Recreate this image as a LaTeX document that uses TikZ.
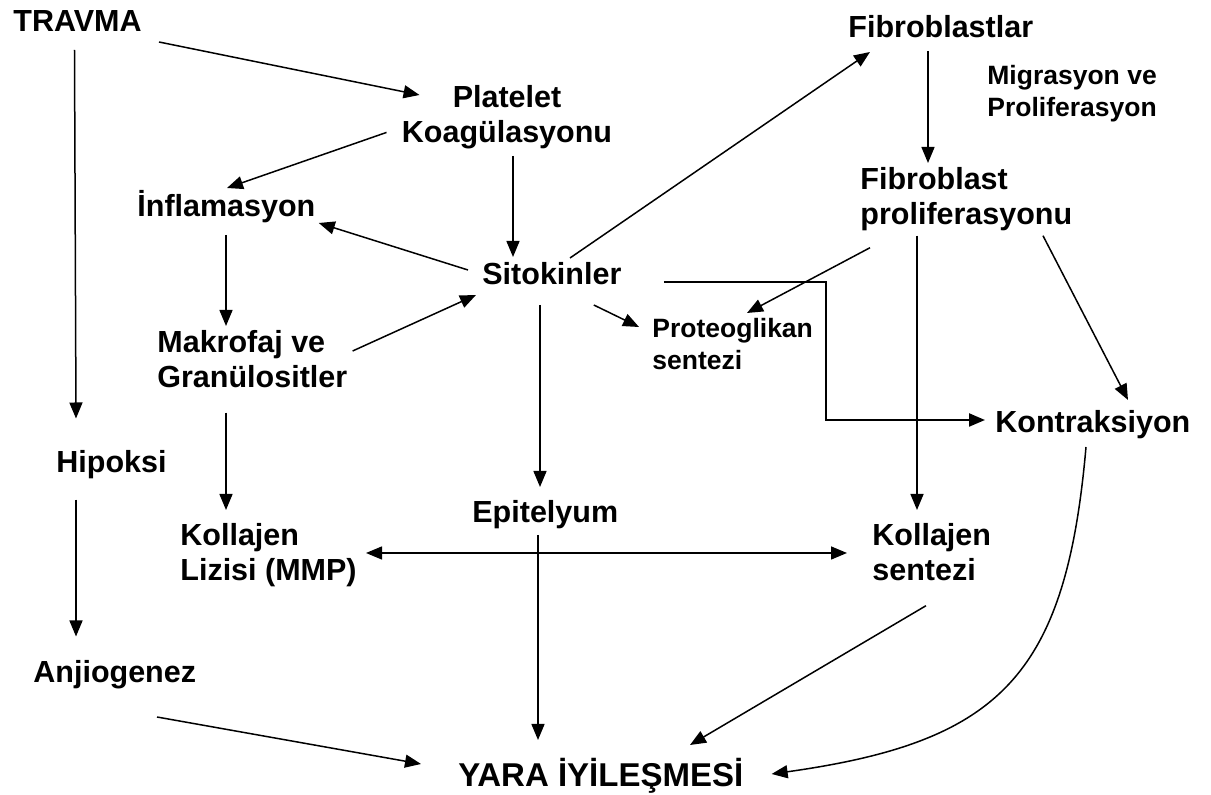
\documentclass[tikz,border=0pt]{standalone}
\usepackage{fontspec}
\setmainfont{Liberation Sans}
\usetikzlibrary{arrows.meta}

\begin{document}
\begin{tikzpicture}[x=0.5pt,y=-0.5pt,
	>={Triangle[length=8pt,width=6.5pt]},
	big/.style={font=\fontsize{15.25}{17.75}\selectfont\bfseries},
	small/.style={font=\fontsize{13.25}{15.75}\selectfont\bfseries},
	huge/.style={font=\fontsize{16.5}{20}\selectfont\bfseries}]
			\path [use as bounding box,fill=white] (0,0) rectangle (1211,795);
			
			\begin{scope}[every node/.style={big,inner sep=0pt}]
				\node [anchor=base west] (T) at (13,32) {TRAVMA};
				\node [anchor=north,align=center] (P) at (507,85) {Platelet\\Koagülasyonu};
				\node [anchor=base west] (F) at (848,38) {Fibroblastlar};
				\node [small,anchor=north west,align=left] (M) at (987,65) {Migrasyon ve\\Proliferasyon};
				\node [anchor=north west,align=left] (FP) at (860,167) {Fibroblast\\proliferasyonu};
				\node [anchor=base west] (I) at (137,217) {İnflamasyon};
				\node [anchor=base west] (S) at (482,285) {Sitokinler};
				\node [small,anchor=north west,align=left] (PS) at (652,318) {Proteoglikan\\sentezi};
				\node [anchor=north west,align=left] (MG) at (157,330) {Makrofaj ve\\Granülositler};
				\node [anchor=base west] (K) at (995,433) {Kontraksiyon};
				\node [anchor=base west] (H) at (56,473) {Hipoksi};
				\node [anchor=base west] (E) at (472,523) {Epitelyum};
				\node [anchor=north west,align=left] (KL) at (180,523) {Kollajen\\Lizisi (MMP)};
				\node [anchor=north west,align=left] (KS) at (872,523) {Kollajen\\sentezi};
				\node [anchor=base west] (A) at (33,683) {Anjiogenez};
				\node [huge,anchor=base west] (Y) at (458,787) {YARA İYİLEŞMESİ};
			\end{scope}
			
			\begin{scope}[every edge/.style={draw=black,line width=0.75pt}]
				\path [->] ([shift={(17,10)}]T.base east) edge ([shift={(18,10)}]P.north west);
				\path [->] ([shift={(-3,18)}]T.base) edge ([shift={(20,-32)}]H.north west);
				\path [->] ([shift={(20,20)}]H.south west) edge ([shift={(43,-24)}]A.north west);
				\path [->] ([shift={(124,34)}]A.base west) edge ([shift={(-37,-23)}]Y.base west);
				\path [->] ([shift={(-15,15)}]P.west) edge ([shift={(90,-29)}]I.base west);
				\path [->] ([shift={(6,6)}]P.south) edge ([shift={(31,-28)}]S.base west);
				\path [->] ([shift={(-14,-15)}]S.base west) edge ([shift={(3,6)}]I.base east);
				\path [->] ([shift={(5,21)}]MG.north east) edge ([shift={(-6,10)}]S.base west);
				\path [->] ([shift={(89,18)}]I.base west) edge ([shift={(69,-4)}]MG.north west);
				\path [->] ([shift={(69,24)}]MG.south west) edge ([shift={(46,-13)}]KL.north west);
				\path [->] ([shift={(88,-27)}]S.base west) edge ([shift={(22,14)}]F.base west);
				\path [->] ([shift={(-28,20)}]S.base east) edge ([shift={(-13,9)}]PS.north west);
				\path [->] ([shift={(58,20)}]S.base west) edge ([shift={(68,-36)}]E.base west);
				\path [->] ([shift={(66,12)}]E.base west) edge ([shift={(80,-47)}]Y.base west);
				\path [->] ([shift={(80,13)}]F.base west) edge ([shift={(68,-4)}]FP.north west);
				\path [->] ([shift={(10,16)}]FP.south west) edge ([shift={(95,-5)}]PS.north west);
				\path [->] ([shift={(57,4)}]FP.south west) edge ([shift={(45,-13)}]KS.north west);
				\path [->] ([shift={(183,4)}]FP.south west) edge ([shift={(133,-33)}]K.base west);
				\path [->] ([shift={(54,24)}]KS.south west) edge ([shift={(232,-42)}]Y.base west);
				\path [->] ([shift={(91,14)}]K.base west) edge [out=-95,in=8,looseness=1.3] ([shift={(28,-13)}]Y.base east);
				\path [<->,line width=1.1pt] ([shift={(9,30)}]KL.north east) edge ([shift={(-25,30)}]KS.north west);
			\end{scope}
			
			\draw [->,line width=1.1pt] ([shift={(42,-3)}]S.base east) -- ++(162,0) |- ([shift={(-10,-13)}]K.base west);
		\end{tikzpicture}
\end{document}
